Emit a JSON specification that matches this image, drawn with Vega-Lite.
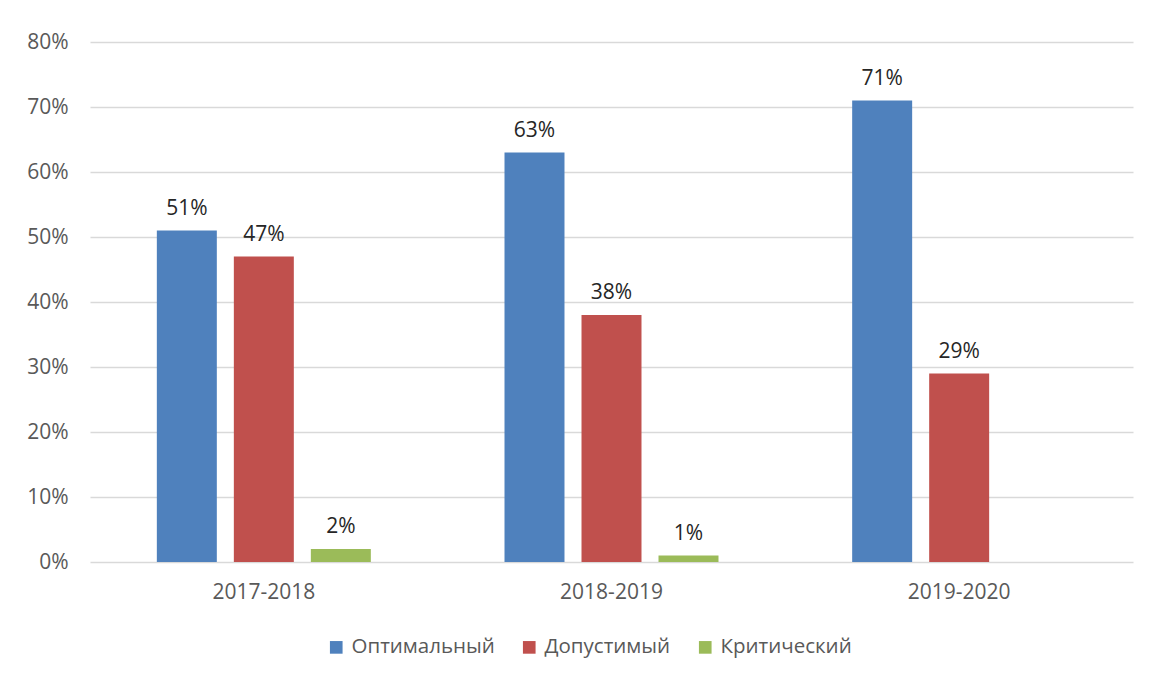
{
  "$schema": "https://vega.github.io/schema/vega-lite/v6.json",
  "width": 1043,
  "height": 520,
  "autosize": {"type": "none"},
  "padding": {"left": 90, "top": 42, "right": 17, "bottom": 116},
  "background": "white",
  "config": {
    "view": {"stroke": null},
    "font": "Open Sans"
  },
  "data": {
    "values": [
      {"year": "2017-2018", "cat": "Оптимальный", "value": 0.51},
      {"year": "2017-2018", "cat": "Допустимый", "value": 0.47},
      {"year": "2017-2018", "cat": "Критический", "value": 0.02},
      {"year": "2018-2019", "cat": "Оптимальный", "value": 0.63},
      {"year": "2018-2019", "cat": "Допустимый", "value": 0.38},
      {"year": "2018-2019", "cat": "Критический", "value": 0.01},
      {"year": "2019-2020", "cat": "Оптимальный", "value": 0.71},
      {"year": "2019-2020", "cat": "Допустимый", "value": 0.29}
    ]
  },
  "encoding": {
    "x": {
      "field": "year", "type": "nominal", "title": null,
      "scale": {"paddingInner": 0, "paddingOuter": 0},
      "axis": {"labelAngle": 0, "tickSize": 0, "domain": false, "labelPadding": 19, "labelFontSize": 21, "labelColor": "#595959"}
    },
    "xOffset": {
      "field": "cat", "type": "nominal",
      "scale": {"domain": ["Оптимальный", "Допустимый", "Критический"], "paddingInner": 0.221, "paddingOuter": 0.868}
    },
    "y": {
      "field": "value", "type": "quantitative", "title": null,
      "scale": {"domain": [0, 0.8], "nice": false},
      "axis": {"format": ".0%", "values": [0, 0.1, 0.2, 0.3, 0.4, 0.5, 0.6, 0.7, 0.8], "labelOverlap": false, "domain": false, "ticks": false, "labelPadding": 22, "labelFontSize": 21, "labelColor": "#595959", "gridColor": "#D9D9D9", "gridWidth": 1.3}
    }
  },
  "layer": [
    {
      "mark": {"type": "bar"},
      "encoding": {
        "color": {
          "field": "cat", "type": "nominal", "title": null,
          "scale": {"domain": ["Оптимальный", "Допустимый", "Критический"], "range": ["#4F81BD", "#C0504D", "#9BBB59"]},
          "legend": {"orient": "none", "legendX": 236, "legendY": 595, "direction": "horizontal", "symbolType": "square", "symbolSize": 160, "symbolStrokeWidth": 0, "labelFontSize": 20.5, "labelColor": "#595959", "labelOffset": 5, "columnPadding": 24}
        }
      }
    },
    {
      "mark": {"type": "text", "baseline": "bottom", "dy": -12, "fontSize": 21, "color": "#262626"},
      "encoding": {
        "text": {"field": "value", "type": "quantitative", "format": ".0%"}
      }
    }
  ]
}
